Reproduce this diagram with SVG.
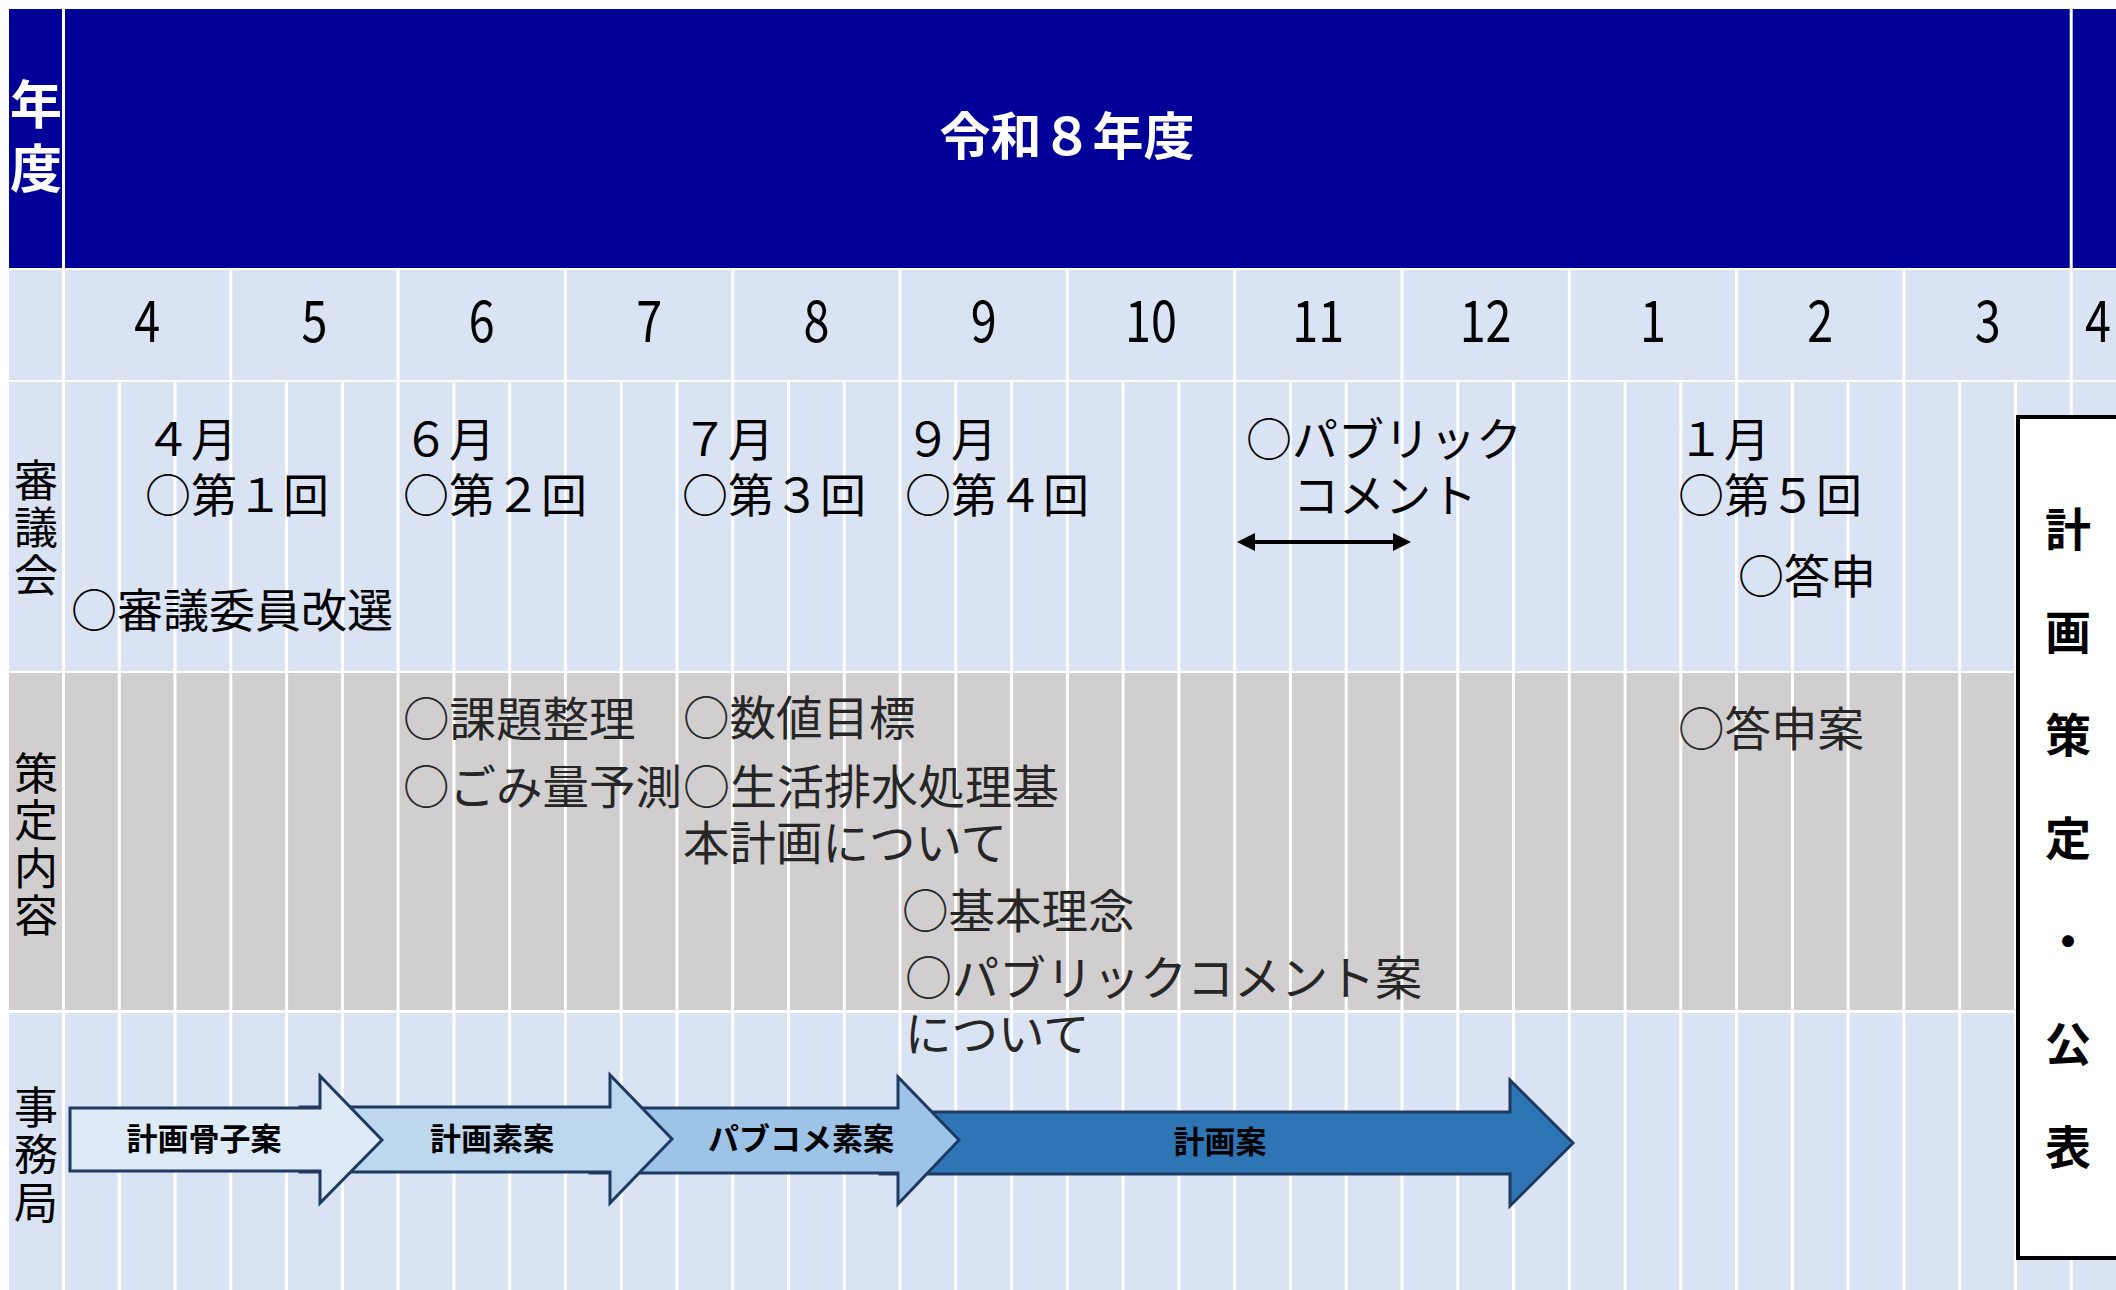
<svg xmlns="http://www.w3.org/2000/svg" width="2116" height="1290" viewBox="0 0 2116 1290">
<style>
  .jp { font-family: 'Noto Sans CJK JP', 'Noto Sans', sans-serif; }
  .cell { font-family: 'Noto Sans CJK JP', sans-serif; font-size: 46px; fill: #000; }
  .plan { font-family: 'Noto Sans CJK JP', sans-serif; font-size: 46.5px; fill: #262626; }
  .vt { writing-mode: vertical-rl; text-orientation: upright; }
  .lbl { font-family: 'Noto Sans CJK JP', sans-serif; font-size: 44px; fill: #000; letter-spacing: 3.5px; }
  .mon { font-family: 'Noto Sans CJK JP', sans-serif; font-size: 57px; fill: #000; text-anchor: middle; }
  .grid { stroke: #FFFFFF; stroke-width: 3; fill: none; }
  .blk { stroke: #1F3A60; stroke-width: 3; stroke-linejoin: miter; }
  .alb { font-family: 'Noto Sans CJK JP', sans-serif; font-size: 31px; font-weight: bold; fill: #000; text-anchor: middle; }
  .box { font-family: 'Noto Sans CJK JP', sans-serif; font-size: 46px; font-weight: bold; fill: #000; letter-spacing: 57px; }
</style>
<defs>
  <marker id="ah" viewBox="0 0 18 18" markerWidth="18" markerHeight="18" markerUnits="userSpaceOnUse" refX="10" refY="9" orient="auto-start-reverse">
    <path d="M0,0 L18,9 L0,18 Z" fill="#000"/>
  </marker>
</defs>
<rect x="0" y="0" width="2116" height="1290" fill="#FFFFFF"/>

<g id="backgrounds">
  <rect x="9" y="9" width="2107" height="259" fill="#000099"/>
  <rect x="9" y="270" width="2107" height="110" fill="#DAE3F3"/>
  <rect x="9" y="382" width="2107" height="289" fill="#DAE3F3"/>
  <rect x="9" y="673" width="2107" height="337" fill="#D0CECE"/>
  <rect x="9" y="1013" width="2107" height="277" fill="#DAE3F3"/>
</g>

<g id="grid-lines" class="grid">
  <path d="M63.5,9 V268 M2071.2,9 V268"/>
  <path d="M63.5,270 V380 M230.8,270 V380 M398.1,270 V380 M565.4,270 V380 M732.7,270 V380 M900.1,270 V380 M1067.4,270 V380 M1234.7,270 V380 M1402,270 V380 M1569.3,270 V380 M1736.6,270 V380 M1903.9,270 V380 M2071.2,270 V380"/>
  <path d="M63.5,382 V1290 M119.3,382 V1290 M175,382 V1290 M230.8,382 V1290 M286.6,382 V1290 M342.4,382 V1290 M398.1,382 V1290 M453.9,382 V1290 M509.7,382 V1290 M565.4,382 V1290 M621.2,382 V1290 M677,382 V1290 M732.7,382 V1290 M788.5,382 V1290 M844.3,382 V1290 M900.1,382 V1290 M955.8,382 V1290 M1011.6,382 V1290 M1067.4,382 V1290 M1123.1,382 V1290 M1178.9,382 V1290 M1234.7,382 V1290 M1290.4,382 V1290 M1346.2,382 V1290 M1402,382 V1290 M1457.8,382 V1290 M1513.5,382 V1290 M1569.3,382 V1290 M1625.1,382 V1290 M1680.8,382 V1290 M1736.6,382 V1290 M1792.4,382 V1290 M1848.1,382 V1290 M1903.9,382 V1290 M1959.7,382 V1290 M2015.5,382 V1290 M2071.2,382 V1290"/>
</g>

<g id="header">
  <text class="jp vt" x="36" y="78" font-size="52" font-weight="bold" fill="#FFFFFF" letter-spacing="12">年度</text>
  <text class="jp" x="1067" y="155" font-size="51" font-weight="bold" fill="#FFFFFF" text-anchor="middle">令和８年度</text>
</g>

<g id="months">
  <text class="mon" transform="translate(147.2 342) scale(0.82 1)">4</text>
  <text class="mon" transform="translate(314.5 342) scale(0.82 1)">5</text>
  <text class="mon" transform="translate(481.8 342) scale(0.82 1)">6</text>
  <text class="mon" transform="translate(649.1 342) scale(0.82 1)">7</text>
  <text class="mon" transform="translate(816.4 342) scale(0.82 1)">8</text>
  <text class="mon" transform="translate(983.7 342) scale(0.82 1)">9</text>
  <text class="mon" transform="translate(1151 342) scale(0.82 1)">10</text>
  <text class="mon" transform="translate(1318.3 342) scale(0.82 1)">11</text>
  <text class="mon" transform="translate(1485.6 342) scale(0.82 1)">12</text>
  <text class="mon" transform="translate(1653 342) scale(0.82 1)">1</text>
  <text class="mon" transform="translate(1820.3 342) scale(0.82 1)">2</text>
  <text class="mon" transform="translate(1987.6 342) scale(0.82 1)">3</text>
  <text class="mon" transform="translate(2098 342) scale(0.82 1)">4</text>
</g>

<g id="row-shingikai">
  <text class="lbl vt" x="36" y="458">審議会</text>
  <text class="cell"><tspan x="145" y="456">４月</tspan><tspan x="145" y="512">○第１回</tspan></text>
  <text class="cell"><tspan x="403" y="456">６月</tspan><tspan x="403" y="512">○第２回</tspan></text>
  <text class="cell"><tspan x="682" y="456">７月</tspan><tspan x="682" y="512">○第３回</tspan></text>
  <text class="cell"><tspan x="905" y="456">９月</tspan><tspan x="905" y="512">○第４回</tspan></text>
  <text class="cell" text-anchor="middle"><tspan x="1384" y="456">○パブリック</tspan><tspan x="1385" y="512">コメント</tspan></text>
  <text class="cell"><tspan x="1678" y="456">１月</tspan><tspan x="1678" y="512">○第５回</tspan></text>
  <text class="cell" x="1738" y="593">○答申</text>
  <text class="cell" x="71" y="627" font-size="46.5">○審議委員改選</text>
</g>

<g id="row-sakutei">
  <text class="lbl vt" x="36" y="751">策定内容</text>
  <text class="plan"><tspan x="403" y="736">○課題整理</tspan><tspan x="403" y="804">○ごみ量予測</tspan></text>
  <text class="plan"><tspan x="683" y="735">○数値目標</tspan><tspan x="683" y="804" font-size="47">○生活排水処理基</tspan><tspan x="683" y="860">本計画について</tspan></text>
  <text class="plan"><tspan x="902" y="928">○基本理念</tspan><tspan x="905" y="995" font-size="47">○パブリックコメント案</tspan><tspan x="905" y="1051">について</tspan></text>
  <text class="plan" x="1678" y="746">○答申案</text>
</g>

<g id="row-jimukyoku">
  <text class="lbl vt" x="36" y="1085">事務局</text>
</g>

<g id="process-arrows">
  <g id="arrow-keikakuan">
    <path class="blk" d="M880,1112 H1510 V1080 L1573,1143 L1510,1206 V1174 H880 Z" fill="#2E75B6"/>
    <text class="alb" x="1220" y="1153">計画案</text>
  </g>
  <g id="arrow-pabukome">
    <path class="blk" d="M590,1108 H898 V1077 L959,1140 L898,1204 V1173 H590 Z" fill="#9DC3E6"/>
    <text class="alb" x="801" y="1150">パブコメ素案</text>
  </g>
  <g id="arrow-soan">
    <path class="blk" d="M300,1107 H610 V1075 L672,1139 L610,1203 V1172 H300 Z" fill="#BDD7EE"/>
    <text class="alb" x="492" y="1150">計画素案</text>
  </g>
  <g id="arrow-kosshi">
    <path class="blk" d="M70,1108 H320 V1076 L382,1140 L320,1203 V1171 H70 Z" fill="#DEEBF7"/>
    <text class="alb" x="204" y="1150">計画骨子案</text>
  </g>
</g>

<g id="connectors">
  <line x1="1245" y1="542" x2="1403" y2="542" stroke="#000" stroke-width="4" marker-start="url(#ah)" marker-end="url(#ah)"/>
</g>

<g id="plan-box">
  <rect x="2018" y="417" width="130" height="841" fill="#FFFFFF" stroke="#000" stroke-width="4"/>
  <text class="box vt" x="2068" y="506">計画策定・公表</text>
</g>
</svg>
